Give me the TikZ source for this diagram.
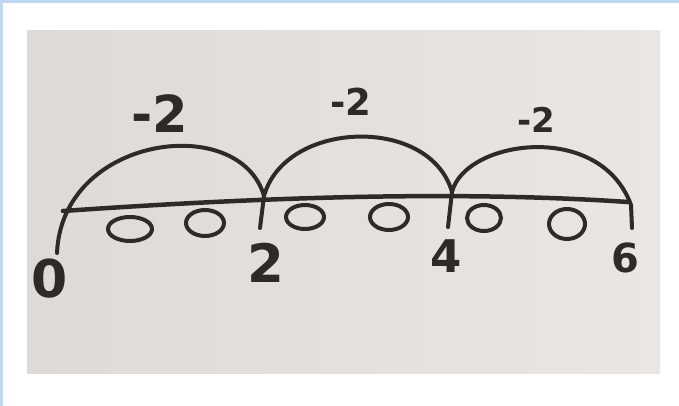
\documentclass[tikz,border=0pt]{standalone}
\usepackage{fontspec}
\setmainfont{DejaVu Sans}
\definecolor{inkc}{RGB}{46,42,40}
\definecolor{paperA}{RGB}{222,218,215}
\definecolor{paperB}{RGB}{233,230,228}
\definecolor{frameblue}{RGB}{190,216,242}
\begin{document}
\begin{tikzpicture}[x=1pt,y=-1pt,
  ink/.style={draw=inkc, line width=4pt, line cap=round},
  lbl/.style={inner sep=0pt, text=inkc, font=\fontsize{#1}{#1}\selectfont\bfseries}]
\useasboundingbox (0,0) rectangle (679,406);
\fill[white] (0,0) rectangle (679,406);
\fill[frameblue] (0,0) rectangle (679,3);
\fill[frameblue] (0,0) rectangle (3,406);
\shade[left color=paperA, right color=paperB] (27,31) rectangle (660,373);
% key points
\coordinate (p0) at (57,253);
\coordinate (p2) at (264,196);
\coordinate (p2b) at (260,228);
\coordinate (p4) at (452,192);
\coordinate (p4b) at (448,227);
\coordinate (p6) at (631,205);
\coordinate (p6b) at (632,228);
\coordinate (l0) at (63,211);
\coordinate (l6) at (628,202);
% main line
\draw[ink, line width=4.5pt] (l0) .. controls (250,198) and (450,190) .. (l6);
% ticks
\draw[ink] (p2) -- (p2b);
\draw[ink] (p4) -- (p4b);
% jumps
\draw[ink] (p0) .. controls (62,135) and (240,112) .. (p2);
\draw[ink] (p2) .. controls (285,120) and (430,115) .. (p4);
\draw[ink] (p4) .. controls (465,140) and (600,120) .. (p6) -- (p6b);
% counters
\draw[ink] (130,229) ellipse [x radius=22, y radius=12];
\draw[ink] (205,223) ellipse [x radius=19, y radius=13];
\draw[ink] (305,217) ellipse [x radius=19, y radius=12];
\draw[ink] (389,217) ellipse [x radius=19, y radius=13];
\draw[ink] (484,218) ellipse [x radius=17, y radius=13];
\draw[ink] (567,224) ellipse [x radius=18, y radius=15];
% labels
\node[lbl=51] (j1) at (160,113.5) {-2};
\node[lbl=37] (j2) at (351,101.5) {-2};
\node[lbl=34] (j3) at (536,119.5) {-2};
\node[lbl=52] (n0) at (50,279) {0};
\node[lbl=53] (n2) at (265.5,262.5) {2};
\node[lbl=45] (n4) at (446,256.5) {4};
\node[lbl=40] (n6) at (625.5,257.5) {6};
\end{tikzpicture}
\end{document}
